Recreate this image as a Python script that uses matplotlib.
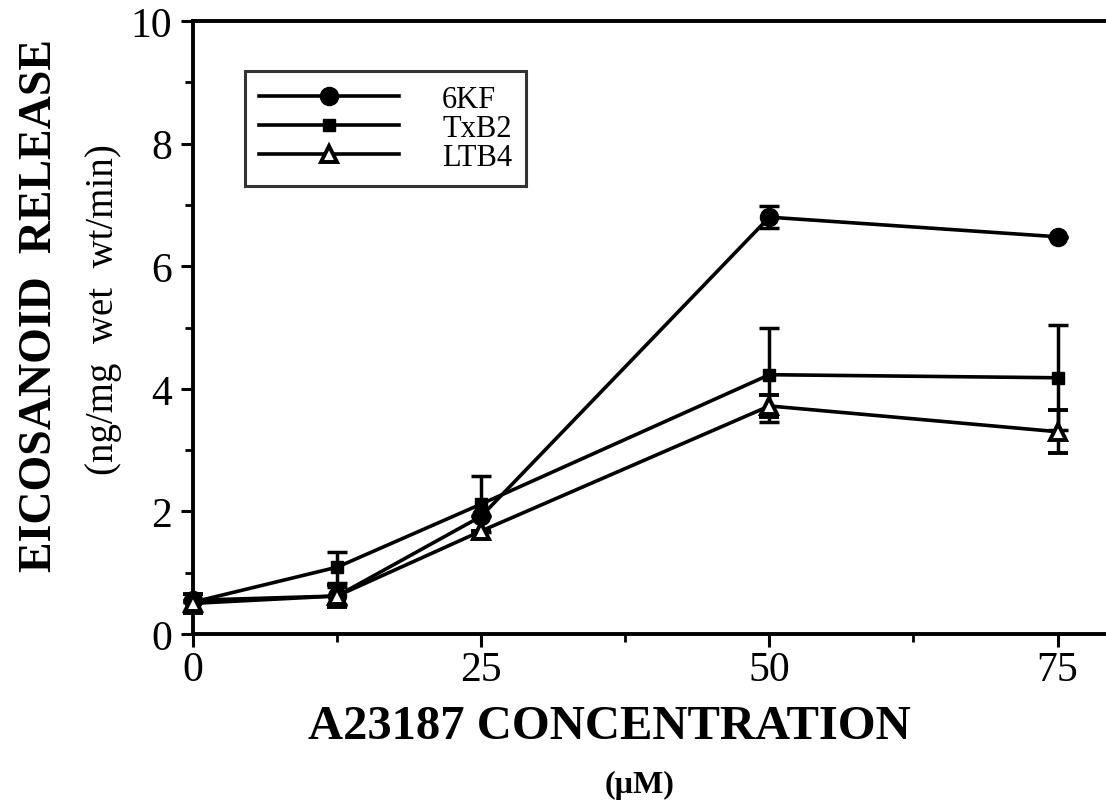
import matplotlib
matplotlib.use("Agg")
import matplotlib.pyplot as plt
from matplotlib.ticker import MultipleLocator
from matplotlib.lines import Line2D

plt.rcParams['font.family'] = ['Liberation Serif', 'DejaVu Serif']

# Data
concentration = [0, 12.5, 25, 50, 75]
kf6 = [0.55, 0.62, 1.92, 6.80, 6.48]
kf6_err = [0.0, 0.15, 0.0, 0.18, 0.0]
txb2 = [0.52, 1.09, 2.12, 4.23, 4.18]
txb2_err = [0.0, 0.25, 0.45, 0.77, 0.86]
ltb4 = [0.50, 0.62, 1.68, 3.72, 3.30]
ltb4_err = [0.15, 0.18, 0.0, 0.18, 0.35]
series_labels = ['6KF', 'TxB2', 'LTB4']
x_tick_labels = ['0', '25', '50', '75']
y_ticks = [0, 2, 4, 6, 8, 10]

fig = plt.figure(figsize=(11.06, 8.04), dpi=100)
ax = fig.add_axes([193/1106, 1 - 635/804, 1 - 193/1106, (635 - 22)/804])

lw = 2.6
common = dict(color='black', lw=lw, capsize=7, capthick=2.5, elinewidth=2.5, clip_on=False, zorder=3)
styles = [
    dict(marker='o', ms=13, mfc='black', mec='black'),
    dict(marker='s', ms=9, mfc='black', mec='black'),
    dict(marker='^', ms=12, mfc='white', mec='black', mew=2.8),
]
ax.errorbar(concentration, kf6, yerr=kf6_err, **styles[0], **common)
ax.errorbar(concentration, txb2, yerr=txb2_err, **styles[1], **common)
ax.errorbar(concentration, ltb4, yerr=ltb4_err, **styles[2], **common)

ax.set_xlim(0, 79.2)
ax.set_ylim(0, 10)
ax.set_xticks([0, 25, 50, 75])
ax.set_xticklabels(x_tick_labels)
ax.xaxis.set_minor_locator(MultipleLocator(12.5))
ax.set_yticks(y_ticks)
ax.yaxis.set_minor_locator(MultipleLocator(1))

for s in ['left', 'bottom', 'top']:
    ax.spines[s].set_linewidth(2.8)
ax.spines['right'].set_visible(False)

ax.tick_params(axis='both', which='major', direction='out', length=9, width=2.2, labelsize=30, pad=6)
ax.tick_params(axis='both', which='minor', direction='out', length=6, width=2.0)
ax.tick_params(axis='x', which='major', pad=3)

ax.set_xlabel('A23187 CONCENTRATION', fontsize=35, fontweight='bold')
ax.xaxis.set_label_coords((609 - 193) / 913, -(727 - 635) / 613)
ax.xaxis.label.set_va('center')
fig.text(640/1106, 1 - 785/804, '(\u00b5M)', fontsize=23, fontweight='bold', ha='center', va='center')

fig.text(40/1106, 1 - 305/804, 'EICOSANOID  RELEASE', fontsize=33, fontweight='bold', rotation=90, ha='center', va='center')
fig.text(103/1106, 1 - 310/804, '(ng/mg  wet  wt/min)', fontsize=28, rotation=90, ha='center', va='center')

handles = [Line2D([], [], color='black', lw=lw, **st) for st in styles]
leg = ax.legend(handles, series_labels, loc='upper left', bbox_to_anchor=(0.057, 0.918), fontsize=22,
                frameon=True, fancybox=False, handlelength=4.6, handletextpad=1.4, labelspacing=0.0,
                borderpad=0.45, borderaxespad=0, numpoints=1)
leg.get_frame().set_edgecolor('black')
leg.get_frame().set_linewidth(2.2)
leg.set_zorder(5)

fig.savefig('out.png', dpi=100)
